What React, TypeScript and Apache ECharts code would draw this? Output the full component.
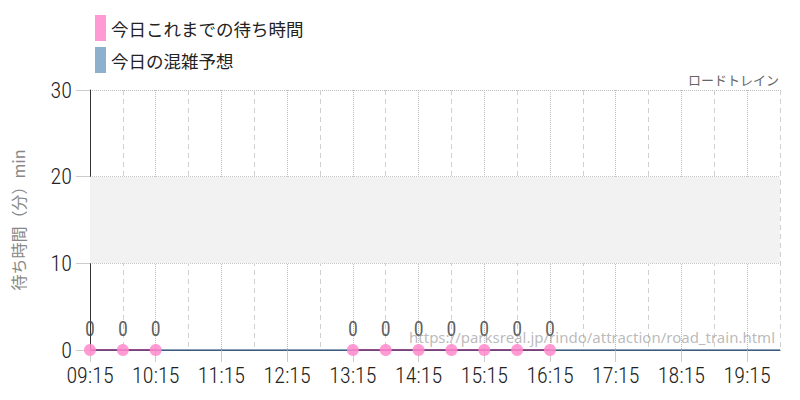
import React, { useEffect, useRef } from "react";
import * as echarts from "echarts";

const categories = [
  "09:15", "09:45", "10:15", "10:45", "11:15", "11:45", "12:15", "12:45",
  "13:15", "13:45", "14:15", "14:45", "15:15", "15:45", "16:15", "16:45",
  "17:15", "17:45", "18:15", "18:45", "19:15", "19:45",
];
const actualWait: (number | null)[] = [
  0, 0, 0, null, null, null, null, null,
  0, 0, 0, 0, 0, 0, 0, null,
  null, null, null, null, null, null,
];
const forecast: (number | null)[] = [
  0, 0, 0, 0, 0, 0, 0, 0, 0, 0, 0, 0, 0, 0, 0, 0, 0, 0, 0, 0, 0, 0,
];
const yTicks = [0, 10, 20, 30];
const bandRange = [10, 20];
const titleText = "ロードトレイン";
const seriesNames = ["今日これまでの待ち時間", "今日の混雑予想"];
const yAxisName = "待ち時間（分）min";
const sourceUrl = "https://parksreal.jp/rindo/attraction/road_train.html";

const condensed = "'Roboto Condensed','DejaVu Sans Condensed','Liberation Sans Narrow',sans-serif";
const jp = "'Noto Sans CJK JP','Noto Sans',sans-serif";

export default function App() {
  const ref = useRef<HTMLDivElement>(null);
  useEffect(() => {
    if (!ref.current) return;
    const chart = echarts.init(ref.current, null, { renderer: "svg" });
    chart.setOption({
      animation: false,
      title: {
        text: titleText,
        right: 16,
        top: 68,
        textStyle: { fontSize: 13, fontWeight: "normal", color: "#666", fontFamily: jp },
      },
      legend: {
        orient: "vertical",
        left: 90,
        top: 10,
        itemWidth: 11,
        itemHeight: 26,
        itemGap: 6,
        icon: "rect",
        data: seriesNames,
        textStyle: { fontSize: 17.5, color: "#222", fontFamily: jp },
      },
      grid: { left: 90, right: 20, top: 90, bottom: 50 },
      graphic: [
        {
          type: "text",
          right: 25,
          top: 329,
          z: 100,
          style: {
            text: sourceUrl,
            fill: "rgba(140,140,140,0.6)",
            font: "15px 'Noto Sans', sans-serif",
          },
        },
      ],
      xAxis: [
        {
          type: "category",
          data: categories,
          boundaryGap: false,
          axisLine: { show: true, lineStyle: { color: "#1c2f4a", width: 1 } },
          axisTick: { show: true, interval: 1, length: 12, lineStyle: { color: "#ccc" } },
          axisLabel: {
            interval: 1,
            margin: 14,
            fontSize: 22,
            fontWeight: 300,
            color: "#222",
            fontFamily: condensed,
          },
          splitLine: {
            show: true,
            interval: (i: number) => i % 2 === 0,
            lineStyle: { type: "dotted", color: "#bbb" },
          },
        },
        {
          type: "category",
          data: categories,
          boundaryGap: false,
          position: "bottom",
          axisLine: { show: false },
          axisTick: { show: false },
          axisLabel: { show: false },
          splitLine: {
            show: true,
            interval: (i: number) => i % 2 === 1,
            lineStyle: { type: [5, 4], color: "#d0d0d0" },
          },
        },
      ],
      yAxis: {
        type: "value",
        min: yTicks[0],
        max: yTicks[yTicks.length - 1],
        interval: 10,
        name: yAxisName,
        nameLocation: "middle",
        nameGap: 64,
        nameTextStyle: { fontSize: 16, color: "#888", fontFamily: jp },
        axisLine: { show: true, lineStyle: { color: "#333" } },
        axisTick: { show: true, length: 14, lineStyle: { color: "#ccc" } },
        axisLabel: { margin: 18, fontSize: 22, fontWeight: 300, color: "#222", fontFamily: condensed },
        splitLine: { show: true, lineStyle: { type: "dotted", color: "#bbb" } },
      },
      series: [
        {
          name: seriesNames[1],
          type: "line",
          data: forecast,
          showSymbol: false,
          symbol: "none",
          itemStyle: { color: "#8fb0cc" },
          lineStyle: { color: "#5f7f9f", width: 1.5 },
          z: 1,
          markArea: {
            silent: true,
            itemStyle: { color: "#f2f2f2" },
            data: [[{ yAxis: bandRange[0] }, { yAxis: bandRange[1] }]],
          },
        },
        {
          name: seriesNames[0],
          type: "line",
          data: actualWait,
          connectNulls: false,
          symbol: "circle",
          symbolSize: 12,
          itemStyle: { color: "#ff88cc", opacity: 0.85 },
          lineStyle: { color: "#993377", width: 1.5 },
          z: 3,
          label: {
            show: true,
            position: "top",
            distance: 5,
            fontSize: 20,
            fontWeight: "normal",
            color: "#444",
            textBorderWidth: 0,
            fontFamily: condensed,
          },
        },
      ],
    });
    return () => chart.dispose();
  }, []);
  return <div ref={ref} style={{ width: 800, height: 400, margin: -8 }} />;
}
